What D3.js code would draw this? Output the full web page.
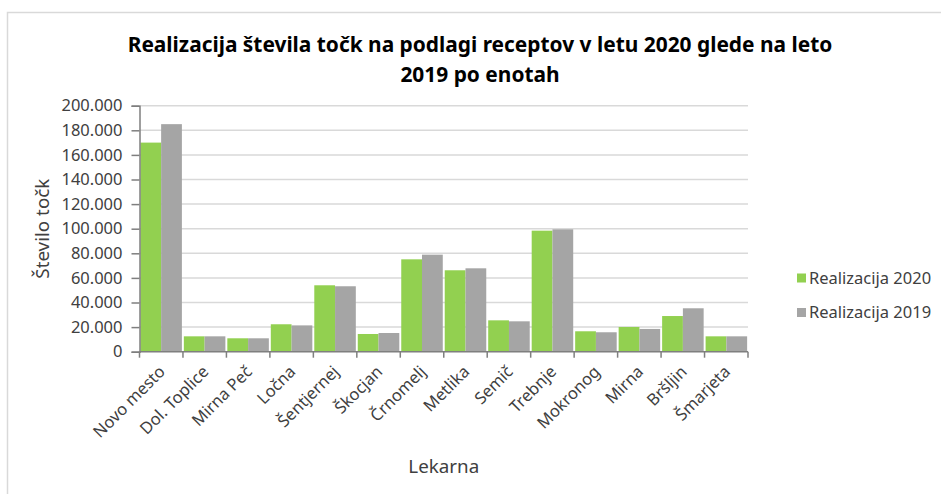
<!DOCTYPE html>
<html><head><meta charset="utf-8">
<script src="https://cdn.jsdelivr.net/npm/d3@7"></script>
<style>
html,body{margin:0;padding:0;background:#fff;}
svg{display:block;font-family:"Noto Sans",sans-serif;}
</style></head>
<body>
<svg id="c" width="941" height="494"></svg>
<script>
const titleLines = ["Realizacija števila točk na podlagi receptov v letu 2020 glede na leto", "2019 po enotah"];
const categories = ["Novo mesto","Dol. Toplice","Mirna Peč","Ločna","Šentjernej","Škocjan","Črnomelj","Metlika","Semič","Trebnje","Mokronog","Mirna","Bršljin","Šmarjeta"];
const seriesNames = ["Realizacija 2020","Realizacija 2019"];
const real2020 = [170000,12500,10900,22300,54000,14400,75100,66200,25500,98400,16600,20100,29000,12500];
const real2019 = [185000,12500,10900,21400,53200,15200,78900,67800,24700,99500,15800,18500,35300,12500];
const yTicks = [0,20000,40000,60000,80000,100000,120000,140000,160000,180000,200000];
const yTitle = "Število točk";
const xTitle = "Lekarna";
const colors = ["#92D050","#A5A5A5"];

const svg = d3.select("#c");
const L = 139.5, R = 748, T = 105.7, B = 351.7;

// frame
svg.append("rect").attr("x",7.5).attr("y",12.5).attr("width",1000).attr("height",600)
  .attr("fill","none").attr("stroke","#D9D9D9").attr("stroke-width",1.5);

// title
svg.append("text").attr("x",480).attr("y",52).attr("text-anchor","middle")
  .attr("font-size",20.9).attr("font-weight","bold").attr("fill","#000")
  .selectAll("tspan").data(titleLines).join("tspan")
  .attr("x",480).attr("dy",(d,i)=> i===0?0:30).text(d=>d);

const y = d3.scaleLinear().domain([0,200000]).range([B,T]);
const x0 = d3.scaleBand().domain(categories).range([L,R]).paddingInner(0.045).paddingOuter(0.02);
const x1 = d3.scaleBand().domain(seriesNames).range([0,x0.bandwidth()]);

// gridlines
svg.append("g").selectAll("line").data(yTicks.filter(d=>d>0)).join("line")
  .attr("x1",L).attr("x2",R).attr("y1",d=>y(d)).attr("y2",d=>y(d))
  .attr("stroke","#D9D9D9").attr("stroke-width",1.5);

// bars
const rows = categories.map((c,i)=>({c, vals:[real2020[i], real2019[i]]}));
const g = svg.append("g");
rows.forEach(r=>{
  g.selectAll(null).data(r.vals.map((v,k)=>({k,v}))).join("rect")
    .attr("x",d=>x0(r.c)+x1(seriesNames[d.k]))
    .attr("width",x1.bandwidth())
    .attr("y",d=>y(d.v)).attr("height",d=>B-y(d.v))
    .attr("fill",d=>colors[d.k]);
});

// y axis
const fmt = d => d===0 ? "0" : d3.format(",")(d).replace(/,/g,".");
const yAxis = svg.append("g").attr("transform",`translate(${L},0)`)
  .call(d3.axisLeft(y).tickValues(yTicks).tickFormat(fmt).tickSize(8).tickPadding(9));
yAxis.select(".domain").attr("stroke","#7F7F7F").attr("stroke-width",1.5);
yAxis.selectAll(".tick line").attr("stroke","#7F7F7F").attr("stroke-width",1.5);
yAxis.selectAll(".tick text").attr("font-size",16.5).attr("fill","#404040").attr("font-family","Noto Sans");

// x axis line and ticks at group boundaries
const xAxisG = svg.append("g");
xAxisG.append("line").attr("x1",L).attr("x2",R).attr("y1",B).attr("y2",B)
  .attr("stroke","#7F7F7F").attr("stroke-width",1.5);
const bounds = d3.range(categories.length+1).map(i=> L + (R-L)*i/categories.length);
xAxisG.selectAll("line.t").data(bounds).join("line").attr("class","t")
  .attr("x1",d=>d).attr("x2",d=>d).attr("y1",B).attr("y2",B+6)
  .attr("stroke","#7F7F7F").attr("stroke-width",1.5);

// x labels
svg.append("g").selectAll("text").data(categories).join("text")
  .attr("transform",d=>`translate(${x0(d)+x0.bandwidth()/2+5},${B+21}) rotate(-45)`)
  .attr("text-anchor","end").attr("font-size",16.5).attr("fill","#404040")
  .text(d=>d);

// axis titles
svg.append("text").attr("transform",`translate(49,${(T+B)/2}) rotate(-90)`)
  .attr("text-anchor","middle").attr("font-size",18.8).attr("fill","#404040").text(yTitle);
svg.append("text").attr("x",(L+R)/2).attr("y",473).attr("text-anchor","middle")
  .attr("font-size",18.8).attr("fill","#404040").text(xTitle);

// legend
const lg = svg.append("g").selectAll("g").data(seriesNames).join("g")
  .attr("transform",(d,i)=>`translate(797,${278 + i*34.5})`);
lg.append("rect").attr("x",0).attr("y",-4.5).attr("width",9).attr("height",9).attr("fill",(d,i)=>colors[i]);
lg.append("text").attr("x",12).attr("y",0).attr("dy","0.35em").attr("font-size",16.5).attr("fill","#404040").text(d=>d);
</script>
</body></html>
